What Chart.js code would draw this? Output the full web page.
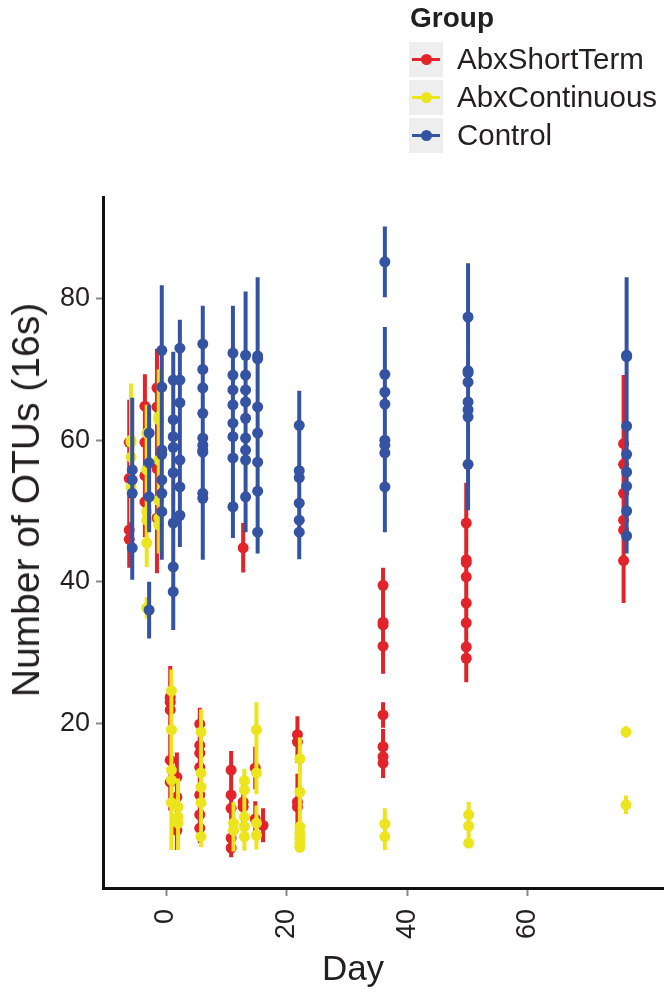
<!DOCTYPE html>
<html>
<head>
<meta charset="utf-8">
<script src="https://cdn.jsdelivr.net/npm/chart.js@4"></script>
<style>
    body { margin: 0; background: #fff; }
    #wrap { position: relative; width: 664px; height: 994px; font-family: 'Liberation Sans', Arial, sans-serif; color: #231f20; }
    #chart { position: absolute; left: 0; top: 0; }
    #legend { position: absolute; left: 409px; top: 2px; }
    #legend .ttl { font-weight: bold; font-size: 28px; line-height: 32px; margin-left: 1px; margin-bottom: 6px; }
    #legend .row { display: flex; align-items: center; height: 38px; }
    #legend .key { position: relative; width: 34px; height: 35px; background: #eeeeee; margin-right: 14px; }
    #legend .key .ln { position: absolute; left: 3px; right: 3px; top: 16px; height: 3px; }
    #legend .key .pt { position: absolute; left: 12px; top: 12px; width: 11px; height: 11px; border-radius: 50%; }
    #legend .lab { font-size: 29.5px; }
    .axtitle { position: absolute; white-space: nowrap; }
    #ytitle { left: 26px; top: 500px; font-size: 39px; transform: translate(-50%, -50%) rotate(-90deg); }
    #xtitle { left: 353px; top: 968px; font-size: 35px; transform: translate(-50%, -50%); }
</style>
</head>
<body>
<div id="wrap">
    <canvas id="chart" width="664" height="994"></canvas>
    <div id="legend"><div class="ttl">Group</div></div>
    <div id="ytitle" class="axtitle">Number of OTUs (16s)</div>
    <div id="xtitle" class="axtitle">Day</div>
</div>
<script>
const groupNames = ["AbxShortTerm", "AbxContinuous", "Control"];
const groupColours = ["#e3232a", "#ece41c", "#3453a3"];

const xTicks = [0, 20, 40, 60];
const yTicks = [20, 40, 60, 80];

// AbxShortTerm
const shortDays = [-6.1, -6.1, -6.1, -6.1, -3.5, -3.5, -3.5, -3.5, -1.5, -1.5, -1.5, -1.5,
    0.7, 0.7, 0.7, 0.7, 0.7, 1.8, 1.8, 1.8, 5.6, 5.6, 5.6, 5.6, 5.6, 5.6, 5.6,
    10.8, 10.8, 10.8, 10.8, 10.8, 12.8, 12.8, 12.8, 14.8, 14.8, 16.1, 21.8, 21.8, 21.8, 21.8,
    36, 36, 36, 36, 36, 36, 36, 36, 49.8, 49.8, 49.8, 49.8, 49.8, 49.8, 49.8, 49.8,
    75.9, 75.9, 75.9, 75.9, 75.9, 75.9];
const shortOTUs = [59.7, 54.6, 47.3, 46.0, 64.8, 59.7, 55.0, 51.3, 67.4, 64.7, 56.0, 49.0,
    23.7, 23.0, 21.9, 14.8, 11.7, 12.4, 9.6, 4.9, 19.9, 16.9, 15.8, 13.8, 9.9, 7.1, 5.2,
    13.4, 9.9, 8.0, 3.8, 2.4, 44.8, 8.9, 8.2, 13.7, 6.5, 5.6, 18.4, 17.4, 8.9, 8.2,
    39.5, 34.3, 33.9, 30.9, 21.2, 16.7, 15.3, 14.4, 48.3, 43.1, 42.7, 40.7, 37.0, 34.2, 30.8, 29.2,
    59.5, 56.6, 52.5, 48.7, 47.3, 43.0];
const shortErr = [6, 5, 5, 4, 4.5, 5, 5, 5, 5.5, 5, 6, 7.8,
    4.4, 4, 3.5, 4, 4, 3.5, 3, 2.8, 2.3, 3, 3, 4, 4, 3.5, 2.1,
    2.7, 3.5, 4, 2.7, 1.3, 3.5, 3, 3, 3, 2.5, 2.4, 2.6, 3, 4, 4,
    2.5, 3, 3.5, 3.9, 1.8, 2.5, 2.5, 2.1, 5.7, 5, 5, 5, 5, 5, 5, 3.2,
    9.7, 7, 8, 7, 6, 6];

// AbxContinuous
const contDays = [-5.8, -5.8, -5.8, -5.8, -3.2, -3.2, -3.2, -3.2, -3.2, -3.2,
    -1.2, -1.2, -1.2, -1.2, -1.2, -1.2, 0.9, 0.9, 0.9, 0.9, 0.9, 2.0, 2.0, 2.0,
    5.8, 5.8, 5.8, 5.8, 5.8, 11.2, 11.2, 13.0, 13.0, 13.0, 13.0, 13.0, 15.0, 15.0, 15.0, 15.0,
    22.2, 22.2, 22.2, 22.2, 22.2, 22.2, 22.2, 36.3, 36.3, 50.2, 50.2, 50.2, 76.3, 76.3];
const contOTUs = [60.0, 59.7, 57.6, 53.4, 61.0, 55.8, 49.9, 48.7, 45.5, 36.3,
    63.3, 62.9, 57.2, 51.5, 49.0, 48.0, 24.6, 19.1, 13.4, 12.0, 8.8, 8.2, 6.8, 5.9,
    18.8, 13.0, 11.0, 8.8, 4.0, 5.9, 4.9, 11.9, 10.6, 6.8, 5.4, 4.0, 19.1, 13.0, 5.9, 4.2,
    15.0, 10.3, 5.4, 4.5, 3.8, 3.1, 2.5, 5.8, 4.0, 7.1, 5.5, 3.1, 18.8, 8.5];
const contErr = [8, 5, 5, 5, 4, 5, 5, 5, 3.4, 1.5,
    6.7, 5, 5, 5, 5, 4, 3, 4, 4, 5, 6.7, 4, 4, 3.8,
    3.2, 4, 4, 4, 1.5, 3, 3, 1.5, 3, 3, 3, 2, 3.9, 3, 2.5, 2,
    3, 4, 3, 2.5, 2, 1, 0.5, 2.2, 1.9, 1.8, 2, 0.7, 0.8, 1.3];

// Control
const ctrlDays = [-5.6, -5.6, -5.6, -5.6, -2.8, -2.8, -2.8, -2.8,
    -0.7, -0.7, -0.7, -0.7, -0.7, -0.7, -0.7, 1.2, 1.2, 1.2, 1.2, 1.2, 1.2, 1.2, 1.2,
    2.3, 2.3, 2.3, 2.3, 2.3, 2.3, 6.1, 6.1, 6.1, 6.1, 6.1, 6.1, 6.1, 6.1, 6.1, 6.1,
    11.1, 11.1, 11.1, 11.1, 11.1, 11.1, 11.1, 11.1, 13.2, 13.2, 13.2, 13.2, 13.2, 13.2, 13.2, 13.2, 13.2,
    15.2, 15.2, 15.2, 15.2, 15.2, 15.2, 15.2, 22.1, 22.1, 22.1, 22.1, 22.1, 22.1,
    36.3, 36.3, 36.3, 36.3, 36.3, 36.3, 36.3, 36.3, 50.1, 50.1, 50.1, 50.1, 50.1, 50.1, 50.1, 50.1,
    76.4, 76.4, 76.4, 76.4, 76.4, 76.4, 76.4, 76.4];
const ctrlOTUs = [55.8, 54.4, 52.5, 44.8, 61.0, 56.8, 52.0, 36.0,
    72.7, 67.5, 58.6, 58.0, 54.4, 52.5, 49.9, 68.5, 62.9, 60.5, 59.0, 55.4, 48.3, 42.1, 38.6,
    73.0, 68.5, 65.3, 57.2, 53.4, 49.4, 73.6, 70.0, 67.4, 63.8, 60.3, 59.3, 58.6, 58.3, 52.5, 51.8,
    72.3, 69.2, 67.1, 65.0, 62.4, 60.5, 57.5, 50.6, 72.0, 69.2, 67.1, 65.4, 63.1, 60.3, 58.6, 57.2, 52.0,
    71.9, 71.5, 64.7, 61.0, 56.9, 52.8, 47.0, 62.1, 55.7, 54.7, 51.1, 48.7, 47.0,
    85.2, 69.3, 66.8, 65.1, 60.0, 59.3, 58.2, 53.4, 77.4, 69.8, 69.5, 68.2, 65.4, 64.3, 63.3, 56.6,
    72.0, 71.8, 62.0, 58.0, 55.5, 53.5, 50.0, 46.5];
const ctrlErr = [10.2, 6, 6, 4.5, 4, 5, 5, 4,
    9.2, 6, 6, 6, 6, 6, 6.8, 4, 6, 6, 6, 6, 6, 8.9, 5,
    4, 5, 6, 6, 6, 4.5, 5.4, 6, 6, 6, 6, 6, 6, 6, 6, 8.7,
    6.7, 6, 6, 6, 6, 6, 6, 4.4, 9, 6, 6, 6, 6, 6, 6, 6, 5,
    11.1, 6, 6, 6, 6, 6, 3, 4.9, 5, 5, 5, 5, 3.8,
    5, 6.7, 6, 6, 6, 6, 6, 6.4, 7.6, 6, 6, 6, 6, 6, 6, 6.5,
    11, 6, 6, 6, 6, 6, 6, 2.5];

const groupDays = [shortDays, contDays, ctrlDays];
const groupOTUs = [shortOTUs, contOTUs, ctrlOTUs];
const groupErr = [shortErr, contErr, ctrlErr];

function points(days, vals) {
    return days.map((d, i) => ({x: d, y: vals[i]}));
}

// each error bar is its own little segment, split by a null
function errorBars(days, vals, errs) {
    const out = [];
    days.forEach((d, i) => {
        out.push({x: d, y: vals[i] - errs[i]}, {x: d, y: vals[i] + errs[i]}, {x: d, y: null});
    });
    return out;
}

// first dataset is painted last, so Control goes on top
let datasets = [];
for (let g = groupNames.length - 1; g >= 0; g--) {
    datasets.push({
        type: 'scatter',
        label: groupNames[g],
        data: points(groupDays[g], groupOTUs[g]),
        pointRadius: 5.5,
        pointBackgroundColor: groupColours[g],
        pointBorderWidth: 0,
        pointBorderColor: groupColours[g]
    });
    datasets.push({
        type: 'line',
        label: groupNames[g] + ' range',
        data: errorBars(groupDays[g], groupOTUs[g], groupErr[g]),
        borderColor: groupColours[g],
        borderWidth: 4,
        borderCapStyle: 'butt',
        pointRadius: 0,
        spanGaps: false,
        fill: false
    });
}

// html legend
const legend = document.getElementById('legend');
groupNames.forEach((name, i) => {
    const row = document.createElement('div');
    row.className = 'row';
    row.innerHTML = `<div class="key"><div class="ln" style="background:${groupColours[i]}"></div>` +
        `<div class="pt" style="background:${groupColours[i]}"></div></div><div class="lab">${name}</div>`;
    legend.appendChild(row);
});

const tickFont = {family: "'Liberation Sans', Arial, sans-serif", size: 27};

new Chart(document.getElementById('chart'), {
    type: 'scatter',
    data: {datasets: datasets},
    options: {
        responsive: false,
        animation: false,
        layout: {autoPadding: false, padding: {top: 197, left: 0, right: 0, bottom: 0}},
        plugins: {
            legend: {display: false},
            tooltip: {enabled: false}
        },
        scales: {
            x: {
                type: 'linear',
                min: -10.45,
                max: 82.6,
                afterBuildTicks: (scale) => { scale.ticks = xTicks.map(v => ({value: v})); },
                afterFit: (scale) => {
                    scale.height = 106;
                    scale.paddingLeft = 0;
                    scale.paddingRight = 0;
                },
                ticks: {
                    font: tickFont,
                    color: '#231f20',
                    minRotation: 90,
                    maxRotation: 90,
                    padding: 13
                },
                grid: {drawOnChartArea: false, tickLength: 8, tickWidth: 2, tickColor: '#8a8a8a'},
                border: {display: true, color: '#111', width: 3}
            },
            y: {
                type: 'linear',
                min: -3.25,
                max: 94.35,
                afterBuildTicks: (scale) => { scale.ticks = yTicks.map(v => ({value: v})); },
                afterFit: (scale) => {
                    scale.width = 103;
                    scale.paddingTop = 0;
                    scale.paddingBottom = 0;
                },
                ticks: {
                    font: tickFont,
                    color: '#231f20',
                    padding: 6
                },
                grid: {drawOnChartArea: false, tickLength: 7, tickWidth: 2, tickColor: '#8a8a8a'},
                border: {display: true, color: '#111', width: 3}
            }
        }
    }
});
</script>
</body>
</html>
